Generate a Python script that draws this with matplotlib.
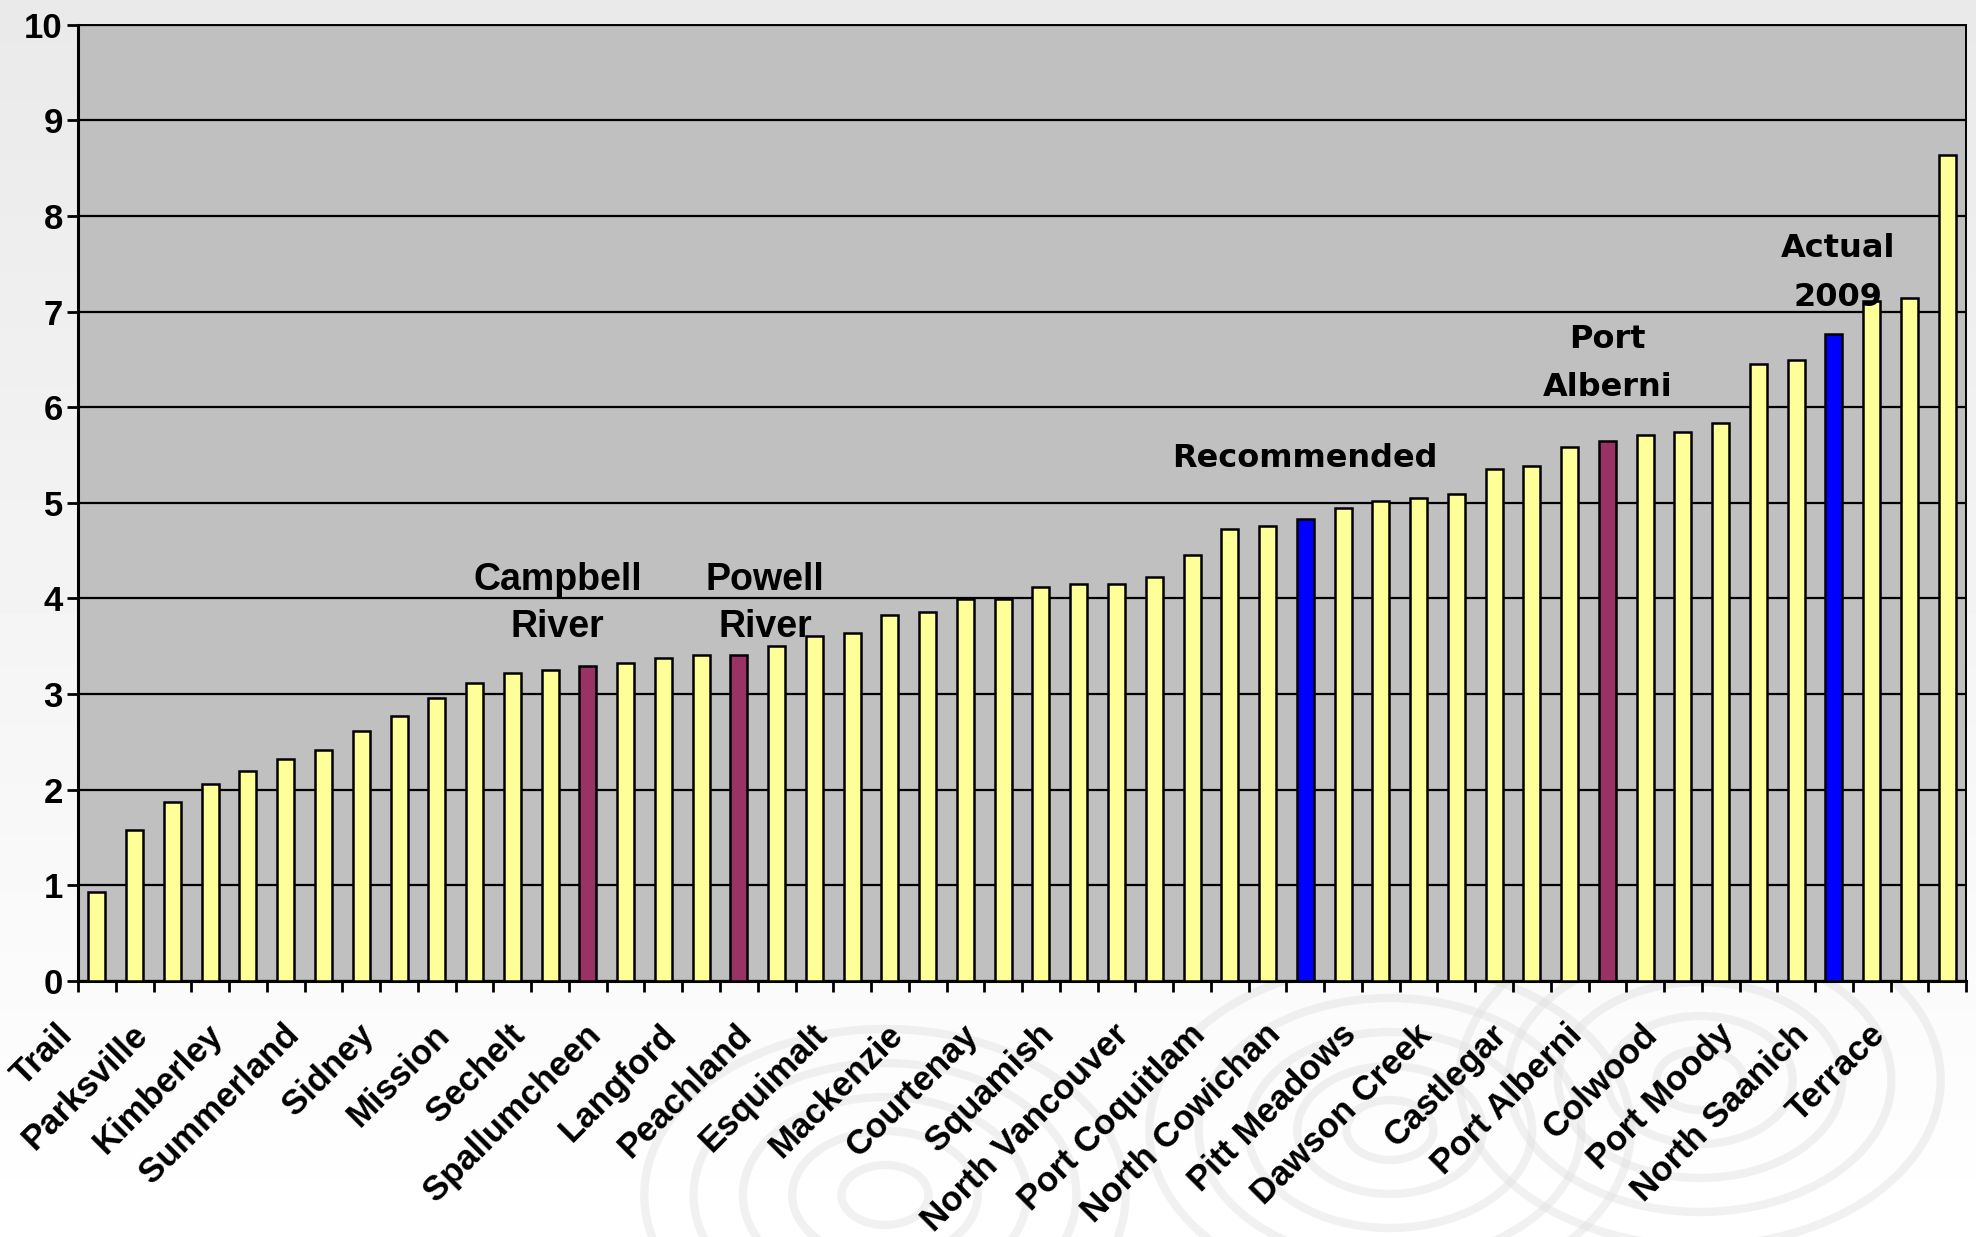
"""
Ranked bar chart of municipal values with highlighted comparison bars
"""

import numpy as np
import matplotlib.pyplot as plt
from matplotlib.patches import Ellipse
from matplotlib.transforms import ScaledTranslation

# one value per municipality, sorted low to high
values = [0.93, 1.58, 1.87, 2.06, 2.20, 2.32, 2.42, 2.61, 2.77, 2.96,
          3.12, 3.22, 3.25, 3.29, 3.32, 3.38, 3.41, 3.41, 3.50, 3.61,
          3.64, 3.83, 3.86, 3.99, 3.99, 4.12, 4.15, 4.15, 4.22, 4.45,
          4.73, 4.76, 4.83, 4.95, 5.02, 5.05, 5.09, 5.35, 5.39, 5.58,
          5.65, 5.71, 5.74, 5.83, 6.45, 6.49, 6.77, 7.11, 7.14, 8.64]

# only every second category gets a label on the axis
tick_labels = ["Trail", "Parksville", "Kimberley", "Summerland", "Sidney",
               "Mission", "Sechelt", "Spallumcheen", "Langford", "Peachland",
               "Esquimalt", "Mackenzie", "Courtenay", "Squamish",
               "North Vancouver", "Port Coquitlam", "North Cowichan",
               "Pitt Meadows", "Dawson Creek", "Castlegar", "Port Alberni",
               "Colwood", "Port Moody", "North Saanich", "Terrace"]

maroon_idx = [13, 17, 40]
blue_idx = [32, 46]

# callout text, one entry per line
note_text = ["Campbell", "River", "Powell", "River", "Recommended",
             "Port", "Alberni", "Actual", "2009"]
note_x = [12.2, 12.2, 17.7, 17.7, 32.0, 40.0, 40.0, 46.1, 46.1]
note_y = [4.09, 3.60, 4.09, 3.60, 5.38, 6.62, 6.12, 7.57, 7.06]

YELLOW = "#FFFF99"
MAROON = "#993366"
BLUE = "#0000FF"
ARIAL = ["Liberation Sans", "DejaVu Sans"]

W, H = 1976, 1237
fig = plt.figure(figsize=(W / 100, H / 100), dpi=100)
fig.patch.set_facecolor("white")

# soft grey-to-white backdrop with a faint ripple pattern
bg = fig.add_axes([0, 0, 1, 1], zorder=-1)
grad = np.linspace(0.915, 1.0, 256).reshape(-1, 1)
bg.imshow(grad, cmap="gray", vmin=0, vmax=1, aspect="auto",
          extent=[0, W, H, 0])
for cx, cy, rmax in [(885, 1195, 200), (1390, 1130, 170), (1700, 1080, 190)]:
    for r in np.arange(30, rmax, 34):
        bg.add_patch(Ellipse((cx, cy), 2.0 * r * 1.45, 2.0 * r,
                             fill=False, edgecolor="#E0E0E0", lw=6,
                             alpha=0.45))
bg.set_xlim(0, W)
bg.set_ylim(H, 0)
bg.axis("off")

ax = fig.add_axes([0.0395, 0.207, 0.9555, 0.773])
ax.set_facecolor("#C0C0C0")

x = np.arange(len(values))
colors = [YELLOW] * len(values)
for i in maroon_idx:
    colors[i] = MAROON
for i in blue_idx:
    colors[i] = BLUE

ax.bar(x, values, width=0.45, color=colors, edgecolor="black",
       linewidth=1.8, zorder=3)

ax.set_xlim(-0.5, len(values) - 0.5)
ax.set_ylim(0, 10)
ax.set_yticks(range(0, 11))
ax.yaxis.grid(True, color="black", linewidth=1.6)
ax.set_axisbelow(True)

for side in ["left", "bottom"]:
    ax.spines[side].set_linewidth(2.2)
for side in ["top", "right"]:
    ax.spines[side].set_linewidth(1.4)

ax.tick_params(axis="y", direction="out", length=8, width=2, pad=3)
for lab in ax.get_yticklabels():
    lab.set_fontweight("bold")
    lab.set_fontsize(25)
    lab.set_family(ARIAL)

# tick marks on the category boundaries, labels on every other bar
ax.set_xticks(np.arange(-0.5, len(values), 1.0), minor=True)
ax.tick_params(axis="x", which="minor", direction="out", length=8, width=2)
ax.set_xticks(x[::2])
ax.set_xticklabels(tick_labels)
ax.tick_params(axis="x", which="major", length=0, pad=35)
shift = ScaledTranslation(-0.30, 0, fig.dpi_scale_trans)
for lab in ax.get_xticklabels():
    lab.set_fontweight("bold")
    lab.set_fontsize(25)
    lab.set_family(ARIAL)
    lab.set_rotation(45)
    lab.set_ha("right")
    lab.set_va("center")
    lab.set_rotation_mode("anchor")
    lab.set_transform(lab.get_transform() + shift)

for k, (t, tx, ty) in enumerate(zip(note_text, note_x, note_y)):
    if k < 4:
        ax.text(tx, ty, t, ha="center", va="baseline", fontsize=27,
                fontweight="bold", family=ARIAL, zorder=5)
    else:
        ax.text(tx, ty, t, ha="center", va="baseline", fontsize=23,
                fontweight="bold", family="DejaVu Sans", zorder=5)

fig.savefig("out.png", dpi=100, facecolor=fig.get_facecolor())
